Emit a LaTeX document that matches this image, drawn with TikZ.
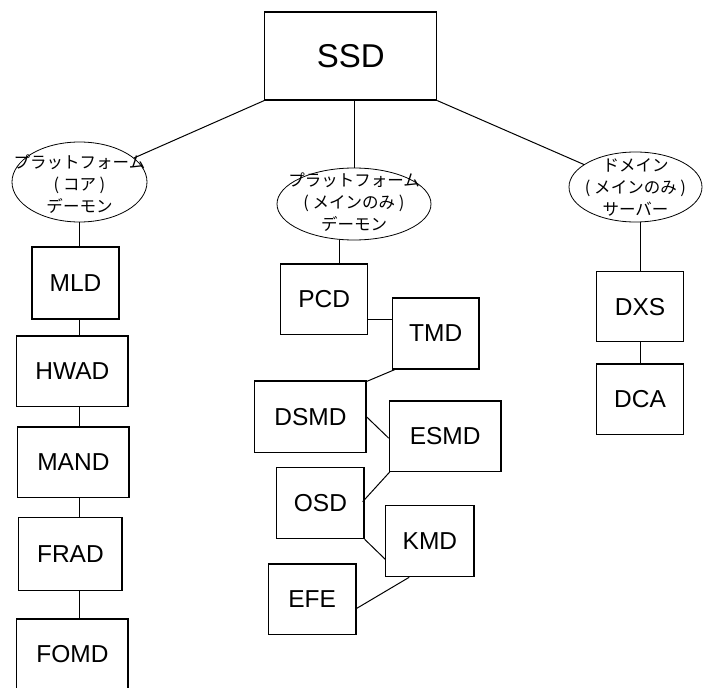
\documentclass[tikz,border=0pt]{standalone}
\usepackage{fontspec}
\setmainfont{Liberation Sans}
\newfontfamily\jpfont{Noto Sans CJK JP}
\usetikzlibrary{shapes.geometric}
\begin{document}
\begin{tikzpicture}[x=1pt,y=-1pt,
  boxnode/.style={draw, line width=1.2pt, inner sep=0pt, font=\fontsize{24.5}{29}\selectfont},
  ovalnode/.style={draw, ellipse, line width=0.8pt, inner sep=0pt},
  jtext/.style={inner sep=0pt, align=center, font=\jpfont\fontsize{16.5}{22}\selectfont},
  conn/.style={line width=1pt}]
\clip (0,0) rectangle (703,687);
\useasboundingbox (0,0) rectangle (703,687);
% top
\node[boxnode, minimum width=172pt, minimum height=88pt, font=\fontsize{33}{40}\selectfont] (ssd) at (350.7,56) {SSD};
% ellipses
\node[ovalnode, minimum width=135pt, minimum height=80pt] (e1) at (79.5,182) {};
\node[jtext] (e1t) at ([yshift=-2pt]e1.center) {プラットフォーム\\( コア )\\デーモン};
\node[ovalnode, minimum width=154pt, minimum height=72pt] (e2) at (354,204) {};
\node[jtext] (e2t) at ([yshift=2pt]e2.center) {プラットフォーム\\( メインのみ )\\デーモン};
\node[ovalnode, minimum width=133pt, minimum height=70pt] (e3) at (635.5,187) {};
\node[jtext] (e3t) at (e3) {ドメイン\\( メインのみ )\\サーバー};
% left column
\node[boxnode, minimum width=87pt, minimum height=72pt] (mld) at (75.5,283) {MLD};
\node[boxnode, minimum width=111.3pt, minimum height=70.7pt] (hwad) at (72.4,371.4) {HWAD};
\node[boxnode, minimum width=111.3pt, minimum height=70.7pt] (mand) at (73.4,462.4) {MAND};
\node[boxnode, minimum width=103.3pt, minimum height=73pt] (frad) at (70.4,554.2) {FRAD};
\node[boxnode, minimum width=111.3pt, minimum height=71pt] (fomd) at (72.4,654.5) {FOMD};
% middle column
\node[boxnode, minimum width=87pt, minimum height=70.3pt] (pcd) at (324.2,299.2) {PCD};
\node[boxnode, minimum width=86.7pt, minimum height=71pt] (tmd) at (435.7,333.5) {TMD};
\node[boxnode, minimum width=111.3pt, minimum height=71.7pt] (dsmd) at (310.4,416.9) {DSMD};
\node[boxnode, minimum width=111.7pt, minimum height=70.3pt] (esmd) at (445.2,436.2) {ESMD};
\node[boxnode, minimum width=87.3pt, minimum height=71pt] (osd) at (320.4,503.2) {OSD};
\node[boxnode, minimum width=88.3pt, minimum height=71pt] (kmd) at (429.9,541.2) {KMD};
\node[boxnode, minimum width=87.7pt, minimum height=70.7pt] (efe) at (312.2,599.4) {EFE};
% right column
\node[boxnode, minimum width=86.6pt, minimum height=70pt] (dxs) at (640,306.7) {DXS};
\node[boxnode, minimum width=86.6pt, minimum height=70.3pt] (dca) at (640,399.2) {DCA};
% connectors
\draw[conn] (ssd.south west) -- (e1);
\draw[conn] (ssd.south -| e2.north) -- (e2.north);
\draw[conn] (ssd.south east) -- (e3);
\draw[conn] (e1.south) -- (e1.south |- mld.north);
\draw[conn] (mld.south -| e1.south) -- (hwad.north -| e1.south);
\draw[conn] (hwad.south -| e1.south) -- (mand.north -| e1.south);
\draw[conn] (mand.south -| e1.south) -- (frad.north -| e1.south);
\draw[conn] (frad.south -| e1.south) -- (fomd.north -| e1.south);
\draw[conn] ([xshift=15pt]pcd.north |- e2.south) -- ([xshift=15pt]pcd.north);
\draw[conn] ([yshift=-20pt]pcd.east) -- ([yshift=-20pt]pcd.east -| tmd.west);
\draw[conn] ([xshift=3pt]tmd.south west) -- ([yshift=-1pt]dsmd.north east);
\draw[conn] (dsmd.east) -- ([yshift=-2pt]esmd.west);
\draw[conn] ([xshift=1pt]esmd.south west) -- ([xshift=-2pt, yshift=1.5pt]osd.east);
\draw[conn] (osd.south east) -- ([yshift=-18pt]kmd.west);
\draw[conn] ([xshift=24pt]kmd.south west) -- ([yshift=-9pt]efe.east);
\draw[conn] (e3.south -| dxs.north) -- (dxs.north);
\draw[conn] (dxs.south) -- (dca.north);
\end{tikzpicture}
\end{document}
